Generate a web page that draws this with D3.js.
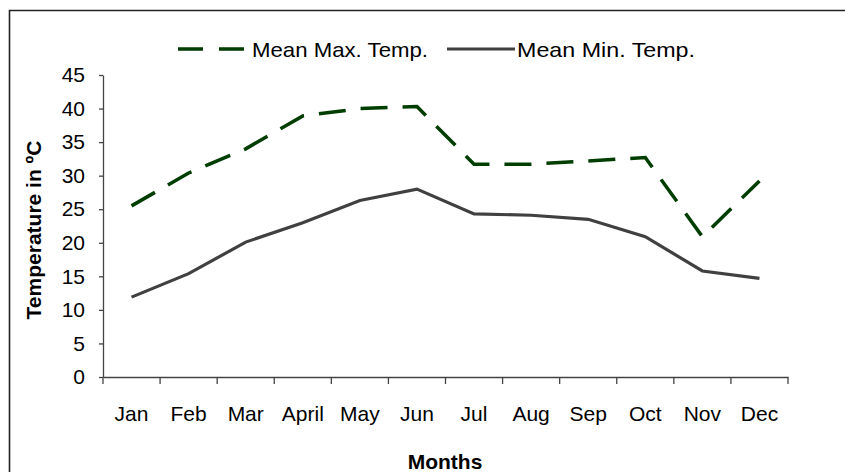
<!DOCTYPE html>
<html>
<head>
<meta charset="utf-8">
<script src="https://cdn.jsdelivr.net/npm/d3@7"></script>
<style>
  body { margin: 0; background: #fff; }
  text { font-family: "Liberation Sans", Arial, sans-serif; }
</style>
</head>
<body>
<div id="chart"></div>
<script>
  var width = 845, height = 472;

  var months = ["Jan","Feb","Mar","April","May","Jun","Jul","Aug","Sep","Oct","Nov","Dec"];
  var maxTemp = [25.5, 30.4, 34, 38.9, 40, 40.3, 31.7, 31.7, 32.2, 32.7, 20.9, 29.2];
  var minTemp = [11.9, 15.4, 20.1, 23, 26.3, 28, 24.3, 24.1, 23.5, 20.9, 15.8, 14.7];
  var yTicks = [0,5,10,15,20,25,30,35,40,45];
  var seriesNames = ["Mean Max. Temp.", "Mean Min. Temp."];

  var svg = d3.select("#chart").append("svg")
    .attr("width", width)
    .attr("height", height);

  // outer frame (only left & top show)
  svg.append("path")
    .attr("d", "M9.5,472 L9.5,10.5 L845,10.5")
    .style("fill", "none")
    .style("stroke", "#222")
    .style("stroke-width", 1.6);

  var x = d3.scaleBand().domain(months).range([103, 788]);
  var y = d3.scaleLinear().domain([0, 45]).range([377, 75]);

  // y axis
  var yAxis = svg.append("g")
    .attr("transform", "translate(103,0)")
    .call(d3.axisLeft(y).tickValues(yTicks).tickSize(4).tickPadding(14).tickSizeOuter(0));
  yAxis.select(".domain").style("stroke", "#444").style("stroke-width", 1.3);
  yAxis.selectAll(".tick line").style("stroke", "#444").style("stroke-width", 1.3);
  yAxis.selectAll("text").style("font-size", "21px").style("fill", "#000");

  // x axis
  var xAxis = svg.append("g")
    .attr("transform", "translate(0,377)")
    .call(d3.axisBottom(x).tickSize(0).tickSizeOuter(0));
  xAxis.select(".domain").style("stroke", "#444").style("stroke-width", 1.3);
  xAxis.selectAll("text")
    .attr("y", 44).attr("dy", 0)
    .style("font-size", "21px").style("fill", "#000");

  // x ticks between categories
  var bounds = months.map(function(m){ return x(m); }).concat([x.range()[1]]);
  svg.append("g").selectAll("line").data(bounds).enter().append("line")
    .attr("x1", function(d){ return d; })
    .attr("x2", function(d){ return d; })
    .attr("y1", 377).attr("y2", 384)
    .style("stroke", "#444").style("stroke-width", 1.3);

  // axis titles
  svg.append("text")
    .attr("x", 445).attr("y", 469)
    .attr("text-anchor", "middle")
    .style("font-size", "21px").style("font-weight", "bold")
    .text("Months");

  svg.append("text")
    .attr("transform", "translate(41,230) rotate(-90)")
    .attr("text-anchor", "middle")
    .style("font-size", "21px").style("font-weight", "bold")
    .text("Temperature in ºC");

  var line = d3.line()
    .x(function(d, i){ return x(months[i]) + x.bandwidth() / 2; })
    .y(function(d){ return y(d); });

  svg.append("path")
    .datum(maxTemp)
    .attr("d", line)
    .style("fill", "none")
    .style("stroke", "#003d00")
    .style("stroke-width", 3.5)
    .style("stroke-dasharray", "27,15");

  svg.append("path")
    .datum(minTemp)
    .attr("d", line)
    .style("fill", "none")
    .style("stroke", "#404040")
    .style("stroke-width", 3.2);

  // legend
  var lg = svg.append("g");
  lg.append("line")
    .attr("x1", 178).attr("x2", 245).attr("y1", 49).attr("y2", 49)
    .style("stroke", "#003d00").style("stroke-width", 3.5)
    .style("stroke-dasharray", "25,16");
  lg.append("text")
    .attr("x", 252).attr("y", 57)
    .attr("textLength", 176).attr("lengthAdjust", "spacingAndGlyphs")
    .style("font-size", "21px")
    .text(seriesNames[0]);
  lg.append("line")
    .attr("x1", 447).attr("x2", 515).attr("y1", 49).attr("y2", 49)
    .style("stroke", "#404040").style("stroke-width", 3.2);
  lg.append("text")
    .attr("x", 517).attr("y", 57)
    .attr("textLength", 178).attr("lengthAdjust", "spacingAndGlyphs")
    .style("font-size", "21px")
    .text(seriesNames[1]);
</script>
</body>
</html>
